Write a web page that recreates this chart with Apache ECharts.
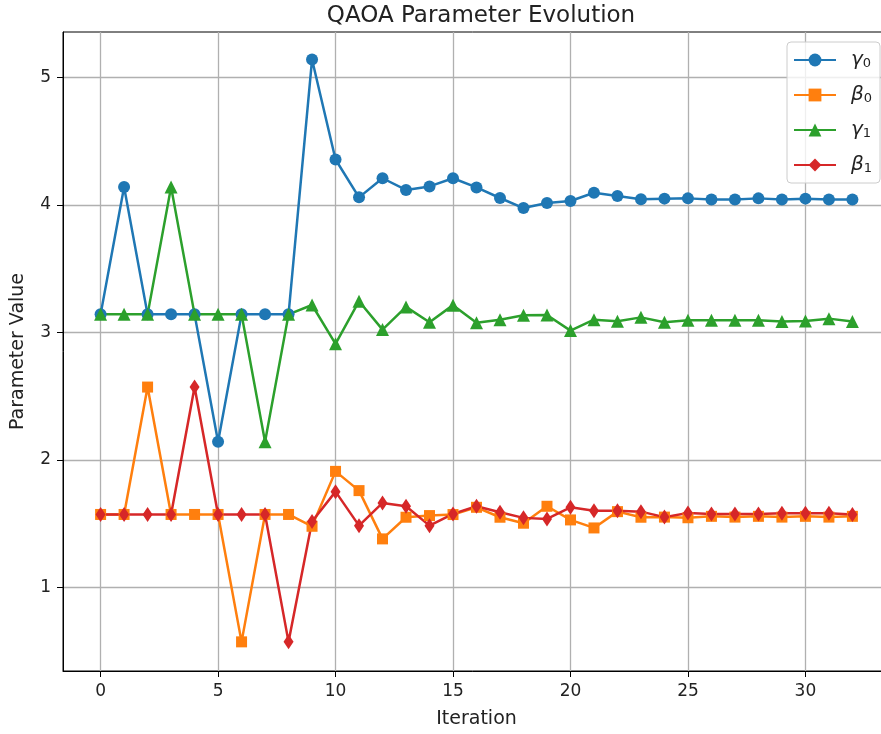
<!DOCTYPE html>
<html>
<head>
<meta charset="utf-8">
<script src="https://cdn.jsdelivr.net/npm/echarts@6/dist/echarts.min.js"></script>
<style>
  html, body { margin: 0; padding: 0; background: #fff; }
  #chart { width: 881px; height: 734px; }
</style>
</head>
<body>
<div id="chart"></div>
<script>
  // 数据
  const iterations = [];
  for (let i = 0; i <= 32; i++) iterations.push(i);

  const gamma0 = [3.1416, 4.1416, 3.1416, 3.1416, 3.1416, 2.1416, 3.1416, 3.1416, 3.1416, 5.1416,
    4.357, 4.06, 4.21, 4.118, 4.146, 4.21, 4.138, 4.055, 3.976, 4.016,
    4.031, 4.096, 4.07, 4.045, 4.05, 4.052, 4.044, 4.044, 4.052, 4.044, 4.05, 4.044, 4.044];
  const beta0 = [1.5708, 1.5708, 2.5708, 1.5708, 1.5708, 1.5708, 0.5708, 1.5708, 1.5708, 1.478,
    1.909, 1.758, 1.379, 1.549, 1.562, 1.57, 1.627, 1.549, 1.502, 1.635,
    1.528, 1.465, 1.593, 1.549, 1.55, 1.545, 1.556, 1.55, 1.556, 1.55, 1.556, 1.55, 1.556];
  const gamma1 = [3.1416, 3.1416, 3.1416, 4.1416, 3.1416, 3.1416, 3.1416, 2.1416, 3.1416, 3.215,
    2.91, 3.245, 3.022, 3.2, 3.08, 3.214, 3.075, 3.1, 3.134, 3.137,
    3.014, 3.1, 3.088, 3.118, 3.08, 3.095, 3.095, 3.095, 3.095, 3.086, 3.09, 3.108, 3.086];
  const beta1 = [1.5708, 1.5708, 1.5708, 1.5708, 2.5708, 1.5708, 1.5708, 1.5708, 0.5708, 1.515,
    1.75, 1.483, 1.661, 1.635, 1.483, 1.575, 1.635, 1.588, 1.544, 1.536,
    1.627, 1.6, 1.6, 1.593, 1.55, 1.583, 1.575, 1.575, 1.575, 1.58, 1.58, 1.58, 1.57];

  const xTicks = [0, 5, 10, 15, 20, 25, 30];
  const yTicks = [1, 2, 3, 4, 5];
  const legendNames = ['γ0', 'β0', 'γ1', 'β1'];

  const font = 'DejaVu Sans';
  const pairs = vals => iterations.map((x, i) => [x, vals[i]]);

  let myChart = echarts.init(document.getElementById('chart'));
  myChart.setOption({
    animation: false,
    title: {
      text: 'QAOA Parameter Evolution',
      left: 476, top: 0, textAlign: 'center',
      textStyle: { fontFamily: font, fontSize: 23, fontWeight: 'normal', color: '#222' }
    },
    grid: {
      left: 63, top: 32, width: 827, height: 639,
      outerBoundsMode: 'none', containLabel: false,
      show: true, borderColor: '#000', borderWidth: 1
    },
    legend: {
      orient: 'vertical',
      left: 787, top: 42,
      padding: [8, 8, 8, 6],
      itemWidth: 42, itemHeight: 16, itemGap: 15,
      backgroundColor: 'rgba(255,255,255,0.8)',
      borderColor: '#ccc', borderWidth: 1, borderRadius: 4,
      data: legendNames,
      formatter: name => '{g|' + name[0] + '}{s|' + name[1] + '}',
      textStyle: {
        fontFamily: font, color: '#222', lineHeight: 20,
        rich: {
          g: { fontFamily: font, fontStyle: 'italic', fontSize: 20, padding: [0, 0, 0, 10] },
          s: { fontFamily: font, fontSize: 13, verticalAlign: 'bottom', padding: [9, 0, 0, 0] }
        }
      }
    },
    xAxis: {
      type: 'value', min: -1.6, max: 33.6,
      name: 'Iteration', nameLocation: 'middle', nameGap: 39,
      nameTextStyle: { fontFamily: font, fontSize: 19, color: '#222' },
      axisLine: { show: true, onZero: false, lineStyle: { color: '#000' } },
      axisTick: { show: true, length: 6, customValues: xTicks, lineStyle: { color: '#000' } },
      axisLabel: { customValues: xTicks, margin: 12, fontFamily: font, fontSize: 17, color: '#222' },
      splitLine: { show: true, lineStyle: { color: '#b0b0b0', width: 1.3 } }
    },
    yAxis: {
      type: 'value', min: 0.342, max: 5.358,
      name: 'Parameter Value', nameLocation: 'middle', nameGap: 35,
      nameTextStyle: { fontFamily: font, fontSize: 19, color: '#222' },
      axisLine: { show: true, onZero: false, lineStyle: { color: '#000' } },
      axisTick: { show: true, length: 6, customValues: yTicks, lineStyle: { color: '#000' } },
      axisLabel: { customValues: yTicks, margin: 12, fontFamily: font, fontSize: 17, color: '#222' },
      splitLine: { show: true, lineStyle: { color: '#b0b0b0', width: 1.3 } }
    },
    series: [
      { name: 'γ0', type: 'line', data: pairs(gamma0), color: '#1f77b4',
        symbol: 'circle', symbolSize: 12, lineStyle: { width: 2.5 } },
      { name: 'β0', type: 'line', data: pairs(beta0), color: '#ff7f0e',
        symbol: 'rect', symbolSize: 11, lineStyle: { width: 2.5 } },
      { name: 'γ1', type: 'line', data: pairs(gamma1), color: '#2ca02c',
        symbol: 'triangle', symbolSize: 13, lineStyle: { width: 2.5 } },
      { name: 'β1', type: 'line', data: pairs(beta1), color: '#d62728',
        symbol: 'diamond', symbolSize: [10, 15], lineStyle: { width: 2.5 } }
    ]
  });
</script>
</body>
</html>
